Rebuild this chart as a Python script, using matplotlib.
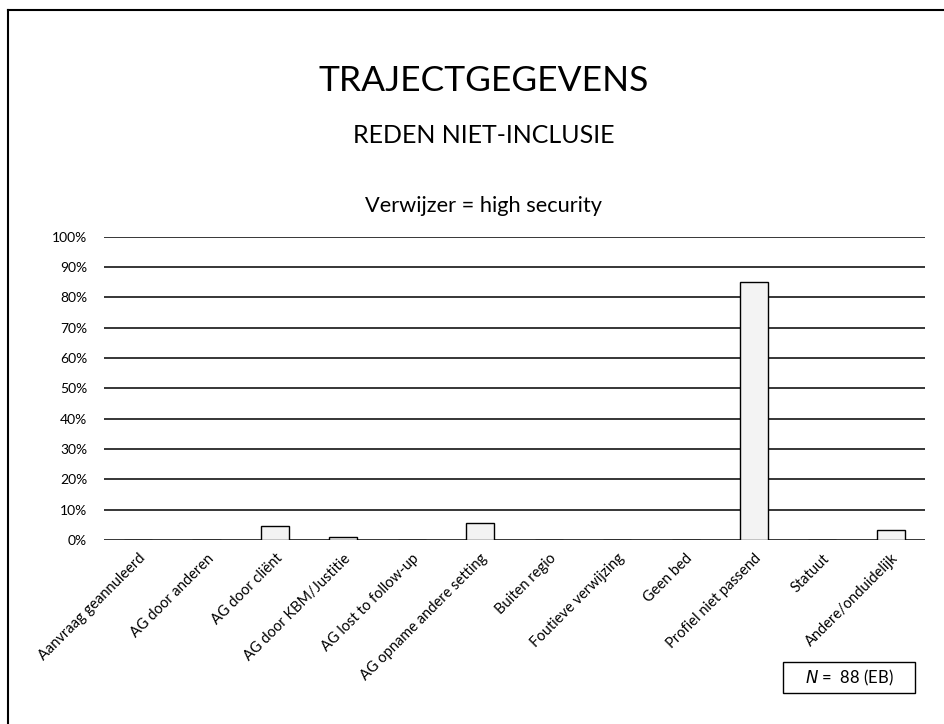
import matplotlib
matplotlib.use('Agg')
import matplotlib.pyplot as plt
from matplotlib.lines import Line2D
from matplotlib.patches import Rectangle

plt.rcParams['font.family'] = ['Lato', 'DejaVu Sans']

categories = ['Aanvraag geannuleerd', 'AG door anderen', 'AG door cliënt',
              'AG door KBM/Justitie', 'AG lost to follow-up',
              'AG opname andere setting', 'Buiten regio', 'Foutieve verwijzing',
              'Geen bed', 'Profiel niet passend', 'Statuut', 'Andere/onduidelijk']
# counts out of N = 88
counts = [0, 0, 4, 1, 0, 5, 0, 0, 0, 75, 0, 3]
n_total = 88
yticks = [0, 0.1, 0.2, 0.3, 0.4, 0.5, 0.6, 0.7, 0.8, 0.9, 1.0]

shares = [c / n_total for c in counts]

fig = plt.figure(figsize=(9.44, 7.24), dpi=100)
ax = fig.add_axes([0.110, 0.254, 0.870, 0.419])

ax.set_axisbelow(True)
for y in yticks:
    ax.axhline(y, color='black', lw=1.1, zorder=1)

x = list(range(len(categories)))
ax.bar(x, shares, width=0.41, color='#f3f3f3', edgecolor='black', lw=1.0, zorder=2)

ax.set_xlim(-0.5, len(categories) - 0.5)
ax.set_ylim(0, 1.0)
ax.set_yticks(yticks)
ax.set_yticklabels([f'{int(round(v * 100))}%' for v in yticks], fontsize=10)
ax.set_xticks(x)
ax.set_xticklabels(categories, rotation=45, ha='right', rotation_mode='anchor', fontsize=10.5)
ax.tick_params(length=0, pad=8)
ax.tick_params(axis='y', pad=12)
for s in ax.spines.values():
    s.set_visible(False)

fig.text(0.512, 0.888, 'TRAJECTGEGEVENS', ha='center', va='center', fontsize=25.5)
fig.text(0.512, 0.813, 'REDEN NIET-INCLUSIE', ha='center', va='center', fontsize=18)
fig.text(0.512, 0.7155, 'Verwijzer = high security', ha='center', va='center', fontsize=15.7)

# N box
fig.add_artist(Rectangle((0.8294, 0.0428), 0.1398, 0.0428, transform=fig.transFigure,
                         fc='white', ec='black', lw=1.0))
fig.text(0.900, 0.0642, r'$\mathit{N}$ =  88 (EB)', ha='center', va='center', fontsize=12)

# scanned frame lines
fig.add_artist(Line2D([0.009, 1.0], [0.986, 0.986], color='black', lw=1.5))
fig.add_artist(Line2D([0.009, 0.009], [0.0, 0.986], color='black', lw=1.5))

fig.savefig('out.png', dpi=100)
